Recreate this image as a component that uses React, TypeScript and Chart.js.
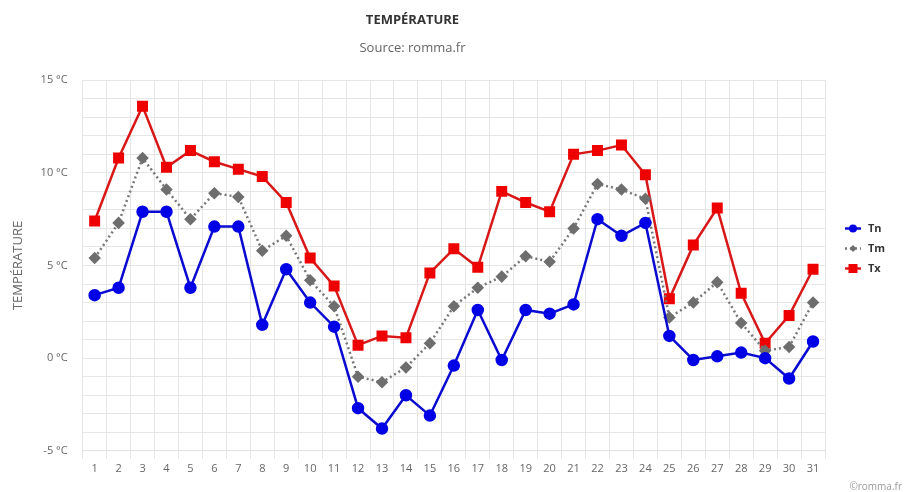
import React, { useEffect, useRef } from "react";
import { Chart, registerables } from "chart.js";

Chart.register(...registerables);

const days = Array.from({ length: 31 }, (_, i) => String(i + 1));
const tn = [3.4, 3.8, 7.9, 7.9, 3.8, 7.1, 7.1, 1.8, 4.8, 3.0, 1.7, -2.7, -3.8, -2.0, -3.1, -0.4, 2.6, -0.1, 2.6, 2.4, 2.9, 7.5, 6.6, 7.3, 1.2, -0.1, 0.1, 0.3, 0.0, -1.1, 0.9];
const tm = [5.4, 7.3, 10.8, 9.1, 7.5, 8.9, 8.7, 5.8, 6.6, 4.2, 2.8, -1.0, -1.3, -0.5, 0.8, 2.8, 3.8, 4.4, 5.5, 5.2, 7.0, 9.4, 9.1, 8.6, 2.2, 3.0, 4.1, 1.9, 0.4, 0.6, 3.0];
const tx = [7.4, 10.8, 13.6, 10.3, 11.2, 10.6, 10.2, 9.8, 8.4, 5.4, 3.9, 0.7, 1.2, 1.1, 4.6, 5.9, 4.9, 9.0, 8.4, 7.9, 11.0, 11.2, 11.5, 9.9, 3.2, 6.1, 8.1, 3.5, 0.8, 2.3, 4.8];

const FONT = "'Open Sans', 'DejaVu Sans', sans-serif";

const legendPlugin = {
  id: "sideLegend",
  afterDraw(chart: any) {
    const ctx = chart.ctx;
    const area = chart.chartArea;
    const ds = chart.data.datasets;
    const x0 = area.right + 20;
    const cy = (area.top + area.bottom) / 2 - 17;
    const gap = 20;
    ctx.save();
    ds.forEach((d: any, i: number) => {
      const y = cy + (i - (ds.length - 1) / 2) * gap;
      ctx.strokeStyle = d.borderColor;
      ctx.lineWidth = 2.5;
      ctx.setLineDash(d.borderDash || []);
      ctx.beginPath();
      ctx.moveTo(x0, y);
      ctx.lineTo(x0 + 16, y);
      ctx.stroke();
      ctx.setLineDash([]);
      ctx.fillStyle = d.pointBackgroundColor;
      const cx = x0 + 8;
      const r = d.pointStyle === "rect" ? 4.5 : d.pointStyle === "rectRot" ? 3.5 : 4;
      ctx.beginPath();
      if (d.pointStyle === "rect") {
        ctx.rect(cx - r, y - r, 2 * r, 2 * r);
      } else if (d.pointStyle === "rectRot") {
        ctx.moveTo(cx, y - r);
        ctx.lineTo(cx + r, y);
        ctx.lineTo(cx, y + r);
        ctx.lineTo(cx - r, y);
        ctx.closePath();
      } else {
        ctx.arc(cx, y, r, 0, Math.PI * 2);
      }
      ctx.fill();
      ctx.fillStyle = "#333";
      ctx.font = `bold 11px ${FONT}`;
      ctx.textBaseline = "middle";
      ctx.textAlign = "left";
      ctx.fillText(d.label, x0 + 23, y);
    });
    ctx.fillStyle = "#999";
    ctx.font = `10px ${FONT}`;
    ctx.textAlign = "right";
    ctx.textBaseline = "alphabetic";
    ctx.fillText("\u00A9romma.fr", chart.width - 10, chart.height - 2);
    ctx.restore();
  },
};

export default function App() {
  const ref = useRef<HTMLCanvasElement>(null);
  useEffect(() => {
    if (!ref.current) return;
    const chart = new Chart(ref.current, {
      type: "line",
      data: {
        labels: days,
        datasets: [
          {
            label: "Tn",
            data: tn,
            borderColor: "#0a0ad0",
            backgroundColor: "#0a0ad0",
            pointBackgroundColor: "#0000e6",
            pointBorderColor: "#0000e6",
            borderWidth: 2.5,
            pointStyle: "circle",
            pointRadius: 5,
            tension: 0,
          },
          {
            label: "Tm",
            data: tm,
            borderColor: "#777777",
            backgroundColor: "#777777",
            pointBackgroundColor: "#6e6e6e",
            pointBorderColor: "#6e6e6e",
            borderWidth: 2.5,
            borderDash: [2, 3],
            pointStyle: "rectRot",
            pointRadius: 4.5,
            tension: 0,
          },
          {
            label: "Tx",
            data: tx,
            borderColor: "#d81818",
            backgroundColor: "#d81818",
            pointBackgroundColor: "#ee0000",
            pointBorderColor: "#ee0000",
            borderWidth: 2.5,
            pointStyle: "rect",
            pointRadius: 6,
            tension: 0,
          },
        ],
      } as any,
      options: {
        animation: false,
        responsive: true,
        maintainAspectRatio: false,
        layout: { padding: { left: 0, right: 87, bottom: 14, top: 0 } },
        plugins: {
          legend: { display: false },
          tooltip: { enabled: false },
          title: {
            display: true,
            text: "TEMPÉRATURE",
            color: "#333",
            font: { family: FONT, size: 13, weight: "bold" },
            padding: { top: 12, bottom: 13 },
          },
          subtitle: {
            display: true,
            text: "Source: romma.fr",
            color: "#666",
            font: { family: FONT, size: 13 },
            padding: { top: 0, bottom: 24 },
          },
        },
        scales: {
          x: {
            offset: true,
            grid: { color: "#e6e6e6", offset: true, tickLength: 8, drawTicks: true },
            border: { color: "#e0e0e0" },
            ticks: { color: "#666", font: { family: FONT, size: 11 }, autoSkip: false, maxRotation: 0 },
          },
          y: {
            min: -5,
            max: 15,
            grid: { color: "#e6e6e6", drawTicks: false },
            border: { display: false },
            ticks: {
              stepSize: 1,
              color: "#666",
              padding: 15,
              font: { family: FONT, size: 11 },
              callback: (v: any) => (Number(v) % 5 === 0 ? `${v} °C` : ""),
            },
            title: {
              display: true,
              text: "TEMPÉRATURE",
              color: "#666",
              font: { family: FONT, size: 13 },
              padding: { top: 10, bottom: 0 },
            },
          },
        },
      },
      plugins: [legendPlugin],
    });
    return () => chart.destroy();
  }, []);
  return (
    <div style={{ position: "fixed", left: 0, top: 0, width: 912, height: 492, background: "#fff" }}>
      <canvas ref={ref} />
    </div>
  );
}
